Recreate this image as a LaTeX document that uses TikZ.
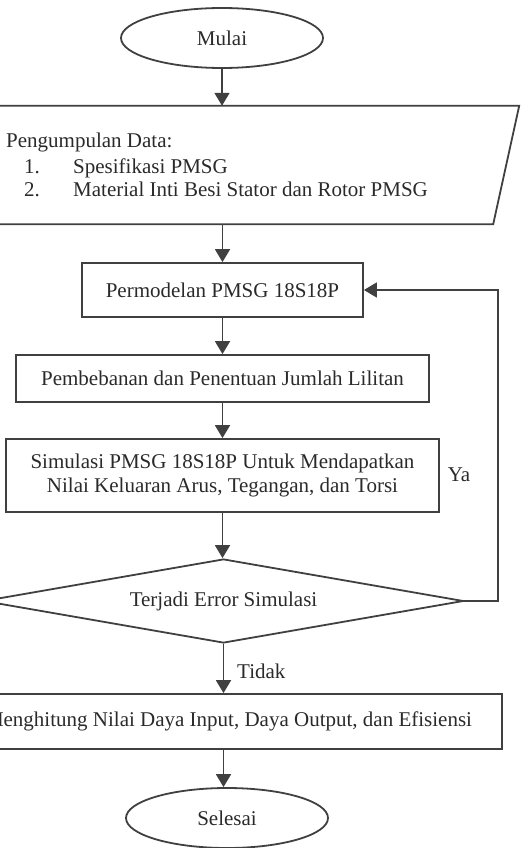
\documentclass[tikz,border=0pt]{standalone}
\usepackage{fontspec}
\setmainfont{Liberation Serif}
\usetikzlibrary{shapes.geometric,arrows.meta,calc}
\definecolor{linec}{HTML}{404040}
\definecolor{txtc}{HTML}{2A2A2A}
\begin{document}
\begin{tikzpicture}[x=1pt,y=-1pt,
  every node/.style={font=\fontsize{21}{25}\selectfont, text=txtc},
  base/.style={draw=linec, line width=1.8pt},
  term/.style={base, ellipse, inner sep=0pt, minimum width=202pt, minimum height=60pt},
  procbox/.style={base, rectangle, inner sep=0pt, align=center},
  flow/.style={draw=linec, line width=1.8pt, -{Triangle[length=13pt,width=15pt]}},
  plain/.style={anchor=base west, inner sep=0pt},
]
\useasboundingbox (0,0) rectangle (520,848);
% terminals
\node[term] (start) at (222,38) {Mulai};
% data input parallelogram
\node[minimum width=586pt, minimum height=118pt, inner sep=0pt] (data) at (226,165) {};
\draw[base, line join=miter] (data.north east) -- ($(data.south east)+(-26,0)$) -- (data.south west) -- ($(data.north west)+(27,0)$) -- cycle;
\node[plain] (dtitle) at (6,147) {Pengumpulan Data:};
\node[plain] (dnum1) at (24,173) {1.};
\node[plain] (ditem1) at (73,173) {Spesifikasi PMSG};
\node[plain] (dnum2) at (24,196) {2.};
\node[plain] (ditem2) at (73,196) {Material Inti Besi Stator dan Rotor PMSG};
% process boxes
\node[procbox, minimum width=281pt, minimum height=54pt] (model) at (222.5,290) {Permodelan PMSG 18S18P};
\node[procbox, minimum width=413pt, minimum height=47pt] (load) at (222.5,378.5) {Pembebanan dan Penentuan Jumlah Lilitan};
\node[procbox, minimum width=433pt, minimum height=73pt] (sim) at (222.5,475.5) {Simulasi PMSG 18S18P Untuk Mendapatkan\\[-1pt]Nilai Keluaran Arus, Tegangan, dan Torsi};
% decision
\node[base, diamond, aspect=5.7, inner sep=0pt, minimum width=480pt, minimum height=84pt] (dec) at (223.5,601) {Terjadi Error Simulasi};
% calculation
\node[procbox, minimum width=547pt, minimum height=55pt] (calc) at (228.5,721.5) {Menghitung Nilai Daya Input, Daya Output, dan Efisiensi};
\node[term] (stop) at (227,818) {Selesai};
% connectors
\coordinate (fb) at (498,292);
\draw[flow] (start.south) -- (start.south |- data.north);
\draw[flow] (model.north |- data.south) -- (model.north);
\draw[flow] (model.south) -- (model.south |- load.north);
\draw[flow] (load.south) -- (load.south |- sim.north);
\draw[flow] (sim.south) -- (sim.south |- dec.north);
\draw[flow] (dec.south) -- (dec.south |- calc.north);
\draw[flow] (dec.south |- calc.south) -- (dec.south |- stop.north);
\draw[flow] (dec.east) -- (dec.east -| fb) |- (model.east);
% labels
\node[anchor=center, inner sep=0pt] (ya) at (459,475) {Ya};
\node[anchor=west, inner sep=0pt] (tidak) at (237,671) {Tidak};
\end{tikzpicture}
\end{document}
